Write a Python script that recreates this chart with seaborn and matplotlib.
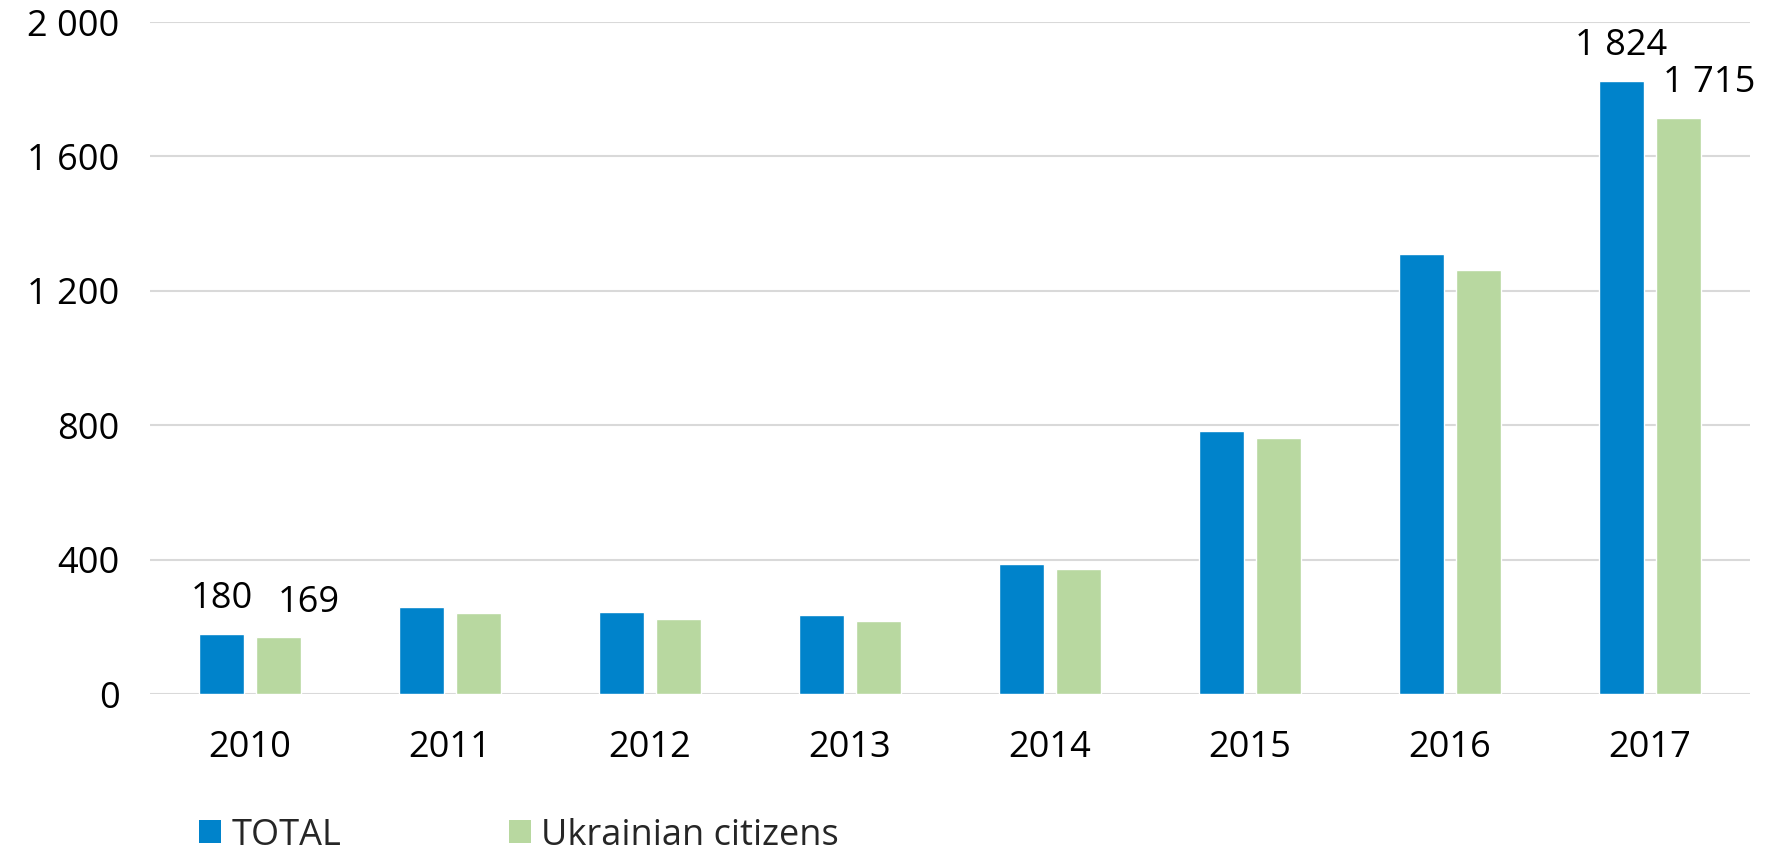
import matplotlib
matplotlib.use("Agg")
import matplotlib.pyplot as plt
import seaborn as sns
import pandas as pd
from matplotlib.patches import Patch

years = ["2010", "2011", "2012", "2013", "2014", "2015", "2016", "2017"]
total = [180, 258, 243, 236, 386, 783, 1311, 1824]
ukrainian = [169, 240, 222, 217, 372, 762, 1262, 1715]
series_names = ["TOTAL", "Ukrainian citizens"]
y_ticks = [0, 400, 800, 1200, 1600, 2000]
y_tick_labels = ["0", "400", "800", "1 200", "1 600", "2 000"]

colors = {"TOTAL": "#0083CB", "Ukrainian citizens": "#B8D8A0"}

df = pd.DataFrame({
    "year": years * 2,
    "value": total + ukrainian,
    "series": [series_names[0]] * len(years) + [series_names[1]] * len(years),
})

sns.set_theme(style="white")
plt.rcParams["font.family"] = ["Open Sans", "DejaVu Sans"]

fig = plt.figure(figsize=(17.73, 8.51), dpi=100)
ax = fig.add_axes([150 / 1773, (851 - 694) / 851, 1600 / 1773, (694 - 22) / 851])

sns.barplot(data=df, x="year", y="value", hue="series", palette=colors,
            width=0.57, gap=0.21, ax=ax, legend=False, saturation=1)

ax.set_ylim(0, 2000)
ax.set_xlim(-0.5, len(years) - 0.5)
ax.set_yticks(y_ticks)
ax.set_yticklabels(y_tick_labels)
ax.yaxis.grid(True, color="#D9D9D9", linewidth=1.5)
ax.set_axisbelow(True)
for s in ax.spines.values():
    s.set_visible(False)
ax.tick_params(axis="both", length=0, labelsize=26, colors="black")
ax.tick_params(axis="y", pad=22)
ax.tick_params(axis="x", pad=26)
ax.set_xlabel("")
ax.set_ylabel("")

def fmt(v):
    return f"{v:,}".replace(",", " ")

# data labels for first and last year
bars_total = ax.containers[0]
bars_ua = ax.containers[1]
for idx in [0, len(years) - 1]:
    for bars, vals, dx in [(bars_total, total, 0), (bars_ua, ukrainian, 22)]:
        b = bars[idx]
        ax.annotate(fmt(vals[idx]), (b.get_x() + b.get_width() / 2, b.get_height()),
                    xytext=(dx, 12), textcoords="offset points",
                    ha="center", va="bottom", fontsize=26, color="black")

handles = [Patch(facecolor=colors[n], edgecolor="none", label=n) for n in series_names]
fig.legend(handles=handles, loc="lower left", bbox_to_anchor=(185 / 1773, -0.02),
           ncol=2, frameon=False, fontsize=26, handlelength=0.6, handleheight=0.6,
           handletextpad=0.28, columnspacing=4.65, borderaxespad=0)

fig.savefig("out.png", dpi=100)
